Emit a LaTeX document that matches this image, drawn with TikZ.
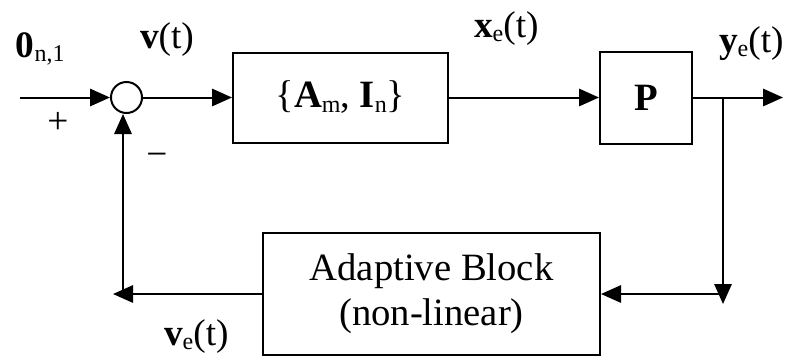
\documentclass[tikz,border=0pt]{standalone}
\usepackage{fontspec}
\setmainfont{Liberation Serif}
\usetikzlibrary{arrows.meta}
% lowered, smaller subscript in text mode
\newcommand{\lsub}[1]{\raisebox{-0.25ex}{\fontsize{18}{18}\selectfont #1}}
\begin{document}
\begin{tikzpicture}[x=0.75pt,y=-0.75pt,line width=1.5pt,
  arr/.style={-{Triangle[length=15pt,width=13pt]}},
  blk/.style={draw,inner sep=0pt,font=\fontsize{29}{34}\selectfont},
  lbl/.style={inner sep=0pt,font=\fontsize{28}{34}\selectfont},
  sumnode/.style={draw,circle,inner sep=0pt,minimum size=23.25pt}]
\useasboundingbox (0,0) rectangle (788,361);

% blocks
\node[sumnode] (sum) at (126.5,97.5) {};
\node[blk,minimum width=161.25pt,minimum height=67.5pt] (sys) at (340.5,97.5)
  {\{\textbf{A}\lsub{m}, \textbf{I}\lsub{n}\}};
\node[blk,minimum width=69pt,minimum height=69pt] (P) at (646,97.5) {\textbf{P}};
\node[blk,minimum width=252.75pt,minimum height=91.5pt,align=center] (adapt) at (431.5,294)
  {Adaptive Block\\(non-linear)};

% helper points of the signal paths
\coordinate (in) at (20,97.5);
\coordinate (out) at (783,97.5);
\coordinate (j) at (723,97.5);
\coordinate (jd) at (723,304);
\coordinate (fbl) at (113,294);
\coordinate (fbc) at (123,294);

% forward path
\draw[arr] (in) -- (sum);
\draw[arr] (sum) -- (sys);
\draw[arr] (sys) -- (P);
\draw[arr] (P) -- (out);

% feedback path
\draw[arr] (j) -- (jd);
\draw[arr] (jd |- adapt) -- (adapt);
\draw[arr] (adapt) -- (fbl);
\draw[arr] (fbc) -- (fbc |- sum.south);

% signal labels
\node[lbl,anchor=base west] (l0) at (15,57) {\textbf{0}\lsub{n,1}};
\node[lbl,anchor=base west] (lv) at (139,48) {\textbf{v}(t)};
\node[lbl,anchor=base west] (lx) at (473,37) {\textbf{x}\lsub{e}(t)};
\node[lbl,anchor=base west] (ly) at (718,52) {\textbf{y}\lsub{e}(t)};
\node[lbl,anchor=base west] (lve) at (163,345) {\textbf{v}\lsub{e}(t)};
\node[lbl] (plus) at (58,123) {+};
\node[lbl] (minus) at (157,160) {−};
\end{tikzpicture}
\end{document}
